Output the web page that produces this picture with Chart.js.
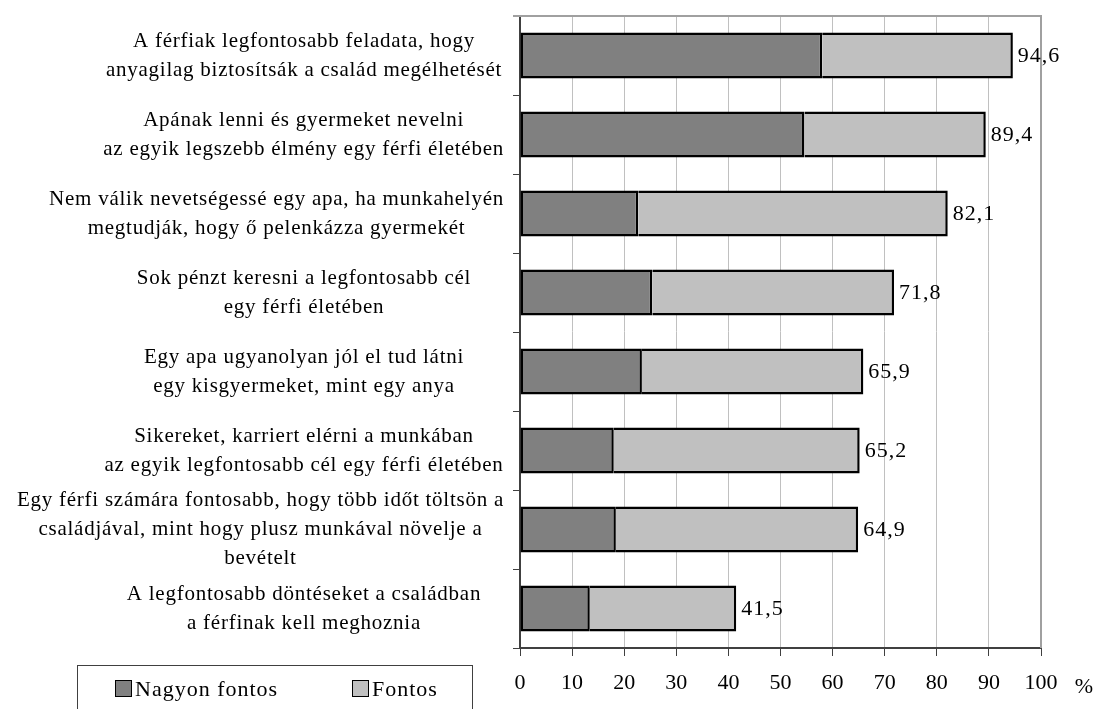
<!DOCTYPE html>
<html lang="hu">
<head>
<meta charset="utf-8">
<title>Férfiak szerepe</title>
<script src="https://cdn.jsdelivr.net/npm/chart.js@4.4.1/dist/chart.umd.min.js"></script>
<style>
  html, body { margin: 0; padding: 0; background: #fff; }
  #wrap { position: relative; width: 1096px; height: 709px; overflow: hidden; }
  #legend {
    position: absolute; left: 77px; top: 665px; width: 396px; height: 60px;
    border: 1px solid #404040; box-sizing: border-box;
    font: 22px "Liberation Serif", "Times New Roman", serif; color: #000;
    letter-spacing: 1px;
  }
  #legend .item { position: absolute; top: 10px; white-space: nowrap; }
  #legend .box {
    display: inline-block; width: 15px; height: 15px; border: 1.5px solid #000;
    vertical-align: -1px; margin-right: 3px;
  }
</style>
</head>
<body>
<div id="wrap">
  <canvas id="chart" width="1096" height="709"></canvas>
  <div id="legend"></div>
</div>
<script>
const FONT = '"Liberation Serif", "Times New Roman", serif';

// Állítások (a tengely feliratai, soronként)
const categories = [
  ["A férfiak legfontosabb feladata, hogy", "anyagilag biztosítsák a család megélhetését"],
  ["Apának lenni és gyermeket nevelni", "az egyik legszebb élmény egy férfi életében"],
  ["Nem válik nevetségessé egy apa, ha munkahelyén", "megtudják, hogy ő pelenkázza gyermekét"],
  ["Sok pénzt keresni a legfontosabb cél", "egy férfi életében"],
  ["Egy apa ugyanolyan jól el tud látni", "egy kisgyermeket, mint egy anya"],
  ["Sikereket, karriert elérni a munkában", "az egyik legfontosabb cél egy férfi életében"],
  ["Egy férfi számára fontosabb, hogy több időt töltsön a", "családjával, mint hogy plusz munkával növelje a", "bevételt"],
  ["A legfontosabb döntéseket a családban", "a férfinak kell meghoznia"]
];

const seriesNames = ["Nagyon fontos", "Fontos"];
const nagyonFontos = [58.0, 54.6, 22.7, 25.4, 23.4, 18.0, 18.4, 13.4];
const osszesen = [94.6, 89.4, 82.1, 71.8, 65.9, 65.2, 64.9, 41.5];
// "Fontos" = összesen - nagyon fontos
const fontos = osszesen.map((v, i) => +(v - nagyonFontos[i]).toFixed(1));

const xTicks = [0, 10, 20, 30, 40, 50, 60, 70, 80, 90, 100];

const colors = ["#808080", "#c0c0c0"];

// kategória feliratok, keret és értékcímkék
const decorations = {
  id: "decorations",
  afterDraw(chart) {
    const { ctx, chartArea } = chart;
    const x = chart.scales.x;
    const y = chart.scales.y;

    // felső és jobb oldali szürke keret
    ctx.save();
    ctx.strokeStyle = "#a0a0a0";
    ctx.lineWidth = 2;
    ctx.beginPath();
    ctx.moveTo(chartArea.left - 7, chartArea.top);
    ctx.lineTo(chartArea.right, chartArea.top);
    ctx.lineTo(chartArea.right, chartArea.bottom);
    ctx.stroke();

    // állítások a tengely bal oldalán
    ctx.fillStyle = "#000";
    ctx.font = "21px " + FONT;
    ctx.letterSpacing = "0.75px";
    ctx.textAlign = "center";
    ctx.textBaseline = "middle";
    const lineH = 29;
    const rightEdge = chartArea.left - 16;
    categories.forEach((lines, i) => {
      const cy = y.getPixelForValue(i);
      const w = Math.max(...lines.map(l => ctx.measureText(l).width));
      const cx = Math.min(304, rightEdge - w / 2);
      lines.forEach((l, j) => {
        ctx.fillText(l, cx, cy + (j - (lines.length - 1) / 2) * lineH);
      });
    });

    // összesített értékek a sávok végén
    ctx.font = "22px " + FONT;
    ctx.letterSpacing = "1px";
    ctx.textAlign = "left";
    osszesen.forEach((v, i) => {
      const px = x.getPixelForValue(v);
      const py = y.getPixelForValue(i);
      ctx.fillText(v.toFixed(1).replace(".", ","), px + 5, py + 1);
    });

    // mértékegység
    ctx.letterSpacing = "0px";
    ctx.textAlign = "center";
    ctx.fillText("%", chartArea.right + 43, chartArea.bottom + 39);
    ctx.restore();
  }
};

new Chart(document.getElementById("chart"), {
  type: "bar",
  data: {
    labels: categories.map(c => c.join(" ")),
    datasets: [
      {
        label: seriesNames[0],
        data: nagyonFontos,
        backgroundColor: colors[0],
        borderColor: "#000",
        borderWidth: 2.5,
        borderSkipped: false
      },
      {
        label: seriesNames[1],
        data: fontos,
        backgroundColor: colors[1],
        borderColor: "#000",
        borderWidth: 2.5,
        borderSkipped: "start"
      }
    ]
  },
  options: {
    indexAxis: "y",
    responsive: false,
    animation: false,
    categoryPercentage: 1,
    barPercentage: 0.585,
    layout: { padding: { top: 16, right: 55, left: 0, bottom: 0 } },
    plugins: {
      legend: { display: false },
      tooltip: { enabled: false }
    },
    scales: {
      x: {
        stacked: true,
        min: 0,
        max: 100,
        afterBuildTicks: (axis) => { axis.ticks = xTicks.map(v => ({ value: v })); },
        ticks: {
          color: "#000",
          font: { family: FONT, size: 22 },
          padding: 14,
          maxRotation: 0,
          autoSkip: false
        },
        grid: { color: "#c0c0c0", lineWidth: 1, tickColor: "#404040", tickLength: 8 },
        border: { color: "#404040", width: 2 },
        afterFit: (axis) => { axis.height = 61; }
      },
      y: {
        stacked: true,
        ticks: { display: false },
        grid: { drawOnChartArea: false, tickLength: 7, color: "#404040", offset: true },
        border: { color: "#404040", width: 2 },
        afterFit: (axis) => { axis.width = 520; }
      }
    }
  },
  plugins: [decorations]
});

// jelmagyarázat
const legend = document.getElementById("legend");
const legendX = [37, 274];
seriesNames.forEach((name, i) => {
  const item = document.createElement("span");
  item.className = "item";
  item.style.left = legendX[i] + "px";
  item.innerHTML = '<span class="box" style="background:' + colors[i] + '"></span>' + name;
  legend.appendChild(item);
});
</script>
</body>
</html>
